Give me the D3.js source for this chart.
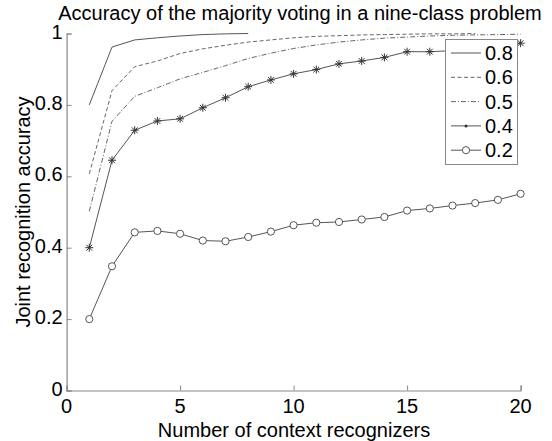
<!DOCTYPE html>
<html><head><meta charset="utf-8">
<script src="https://cdn.jsdelivr.net/npm/d3@7"></script>
<style>
html,body{margin:0;padding:0;background:#fff;}
text{font-family:"Liberation Sans",Arial,sans-serif;fill:#000;}
</style></head>
<body><svg id="c" width="552" height="441"></svg>
<script>
const title = "Accuracy of the majority voting in a nine-class problem";
const xLabel = "Number of context recognizers";
const yLabel = "Joint recognition accuracy";
const xTicks = [0, 5, 10, 15, 20];
const yTicks = [0, 0.2, 0.4, 0.6, 0.8, 1];
const yTickLabels = ["0", "0.2", "0.4", "0.6", "0.8", "1"];
const seriesNames = ["0.8", "0.6", "0.5", "0.4", "0.2"];
const s08 = [0.80, 0.962, 0.982, 0.988, 0.993, 0.997, 0.999, 1.0];
const s06 = [0.607, 0.84, 0.907, 0.923, 0.944, 0.957, 0.967, 0.976, 0.982, 0.988, 0.992, 0.994, 0.996, 0.997, 0.998, 0.999, 0.999, 1.0];
const s05 = [0.502, 0.754, 0.824, 0.848, 0.873, 0.891, 0.91, 0.93, 0.945, 0.958, 0.968, 0.976, 0.982, 0.987, 0.99, 0.993, 0.995, 0.996, 0.997, 0.998];
const s04 = [0.40, 0.645, 0.729, 0.755, 0.761, 0.792, 0.820, 0.851, 0.870, 0.887, 0.899, 0.915, 0.923, 0.933, 0.949, 0.949, 0.952, 0.958, 0.965, 0.973];
const s02 = [0.20, 0.348, 0.443, 0.447, 0.439, 0.420, 0.418, 0.430, 0.445, 0.463, 0.470, 0.472, 0.479, 0.486, 0.504, 0.510, 0.518, 0.525, 0.534, 0.551];

const seriesData = [s08, s06, s05, s04, s02];
const styles = [
  {dash: null, marker: null, color: "#555"},
  {dash: "4,2.5", marker: null, color: "#666"},
  {dash: "5,2,1,2", marker: null, color: "#666"},
  {dash: null, marker: "star", color: "#555"},
  {dash: null, marker: "circle", color: "#555"}
];

const svg = d3.select("#c");
svg.append("rect").attr("width",552).attr("height",441).attr("fill","#fff");
const x = d3.scaleLinear().domain([0,20]).range([66.6,520.6]);
const y = d3.scaleLinear().domain([0,1]).range([390.5,33.5]);
const axisColor = "#888";

// axes
const xAxis = svg.append("g").attr("transform",`translate(0,${y(0)})`)
  .call(d3.axisBottom(x).tickValues(xTicks).tickSize(-5).tickFormat(""));
const yAxis = svg.append("g").attr("transform",`translate(${x(0)},0)`)
  .call(d3.axisLeft(y).tickValues(yTicks).tickSize(-5).tickFormat(""));
[xAxis,yAxis].forEach(g=>{
  g.select(".domain").attr("stroke",axisColor).attr("stroke-width",1.2);
  g.selectAll(".tick line").attr("stroke",axisColor);
});
// tick labels
svg.append("g").selectAll("text").data(xTicks).join("text")
  .attr("x",d=>x(d)).attr("y",y(0)+22).attr("text-anchor","middle")
  .attr("font-size",20).text(d=>d);
svg.append("g").selectAll("text").data(yTicks).join("text")
  .attr("x",x(0)-4).attr("y",d=>y(d)+5).attr("text-anchor","end")
  .attr("font-size",20).text((d,i)=>yTickLabels[i]);

// titles
svg.append("text").attr("x",300).attr("y",20).attr("text-anchor","middle")
  .attr("font-size",20).text(title);
svg.append("text").attr("x",294).attr("y",436.5).attr("text-anchor","middle")
  .attr("font-size",20).text(xLabel);
svg.append("text").attr("transform",`translate(30,212) rotate(-90)`)
  .attr("text-anchor","middle").attr("font-size",20).text(yLabel);

const line = d3.line().x((d,i)=>x(i+1)).y(d=>y(d));
function starPath(r){
  const a = r*0.72;
  return `M${-r},0L${r},0M0,${-r}L0,${r}M${-a},${-a}L${a},${a}M${-a},${a}L${a},${-a}`;
}
function drawMarker(g, kind, color){
  if(kind==="star") g.append("path").attr("d",starPath(4)).attr("stroke","#333").attr("stroke-width",1).attr("fill","none");
  else if(kind==="circle") g.append("circle").attr("r",3.6).attr("fill","#fff").attr("stroke",color).attr("stroke-width",1);
}

seriesData.forEach((data,si)=>{
  const st = styles[si];
  svg.append("path").datum(data).attr("d",line).attr("fill","none")
    .attr("stroke",st.color).attr("stroke-width",1)
    .attr("stroke-dasharray",st.dash);
  if(st.marker){
    svg.append("g").selectAll("g").data(data).join("g")
      .attr("transform",(d,i)=>`translate(${x(i+1)},${y(d)})`)
      .each(function(){ drawMarker(d3.select(this), st.marker, st.color); });
  }
});

// legend
const lg = svg.append("g");
lg.append("rect").attr("x",445.5).attr("y",39.5).attr("width",72).attr("height",125)
  .attr("fill","#fff").attr("stroke",axisColor).attr("stroke-width",1);
seriesNames.forEach((name,i)=>{
  const cy = 53 + i*24.3;
  const st = styles[i];
  lg.append("line").attr("x1",451).attr("x2",481).attr("y1",cy).attr("y2",cy)
    .attr("stroke",st.color).attr("stroke-width",1).attr("stroke-dasharray",st.dash);
  if(st.marker){
    const mg = lg.append("g").attr("transform",`translate(466,${cy})`);
    if(st.marker==="star") mg.append("circle").attr("r",1.5).attr("fill","#333");
    else drawMarker(mg, st.marker, st.color);
  }
  lg.append("text").attr("x",485).attr("y",cy+7).attr("font-size",20).text(name);
});
</script></body></html>
